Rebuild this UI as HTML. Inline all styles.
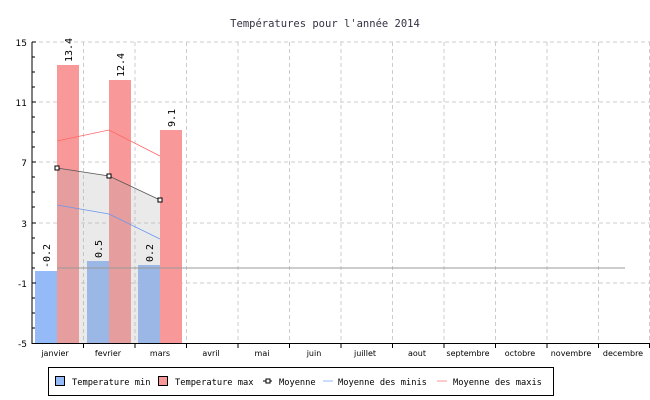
<!DOCTYPE html><html><head><style>body{margin:0;background:#fff}svg{display:block;font-family:"DejaVu Sans Mono","Liberation Mono",monospace}</style></head><body>
<svg width="650" height="400" viewBox="0 0 650 400">
<text x="325" y="27" text-anchor="middle" font-size="10.5" fill="#334">Températures pour l'année 2014</text>
<g stroke="#ccc" stroke-dasharray="4,3" fill="none">
<line x1="32" x2="650" y1="42" y2="42"/><line x1="32" x2="650" y1="102" y2="102"/><line x1="32" x2="650" y1="162" y2="162"/><line x1="32" x2="650" y1="223" y2="223"/><line x1="32" x2="650" y1="283" y2="283"/>
<line x1="83.5" x2="83.5" y1="42" y2="343"/><line x1="135" x2="135" y1="42" y2="343"/><line x1="186.5" x2="186.5" y1="42" y2="343"/><line x1="238" x2="238" y1="42" y2="343"/><line x1="289.5" x2="289.5" y1="42" y2="343"/><line x1="341" x2="341" y1="42" y2="343"/><line x1="392.5" x2="392.5" y1="42" y2="343"/><line x1="444" x2="444" y1="42" y2="343"/><line x1="495.5" x2="495.5" y1="42" y2="343"/><line x1="547" x2="547" y1="42" y2="343"/><line x1="598.5" x2="598.5" y1="42" y2="343"/><line x1="649.5" x2="649.5" y1="42" y2="343"/>
</g>
<rect x="35" y="271" width="22" height="72" fill="#94bbf8"/>
<rect x="87" y="261" width="22" height="82" fill="#94bbf8"/>
<rect x="138" y="265" width="22" height="78" fill="#94bbf8"/>
<rect x="57" y="65" width="22" height="278" fill="#f99898"/>
<rect x="109" y="80" width="22" height="263" fill="#f99898"/>
<rect x="160" y="130" width="22" height="213" fill="#f99898"/>
<polygon points="57,168 109,176 160,200 160,343 57,343" fill="#aaa" fill-opacity="0.25"/>
<line x1="57" x2="625" y1="268" y2="268" stroke="#999"/>
<polyline points="57,141 109,130 160,156" fill="none" stroke="#f66" stroke-width="0.8"/>
<polyline points="57,205 109,214 160,239" fill="none" stroke="#6a96ee" stroke-width="0.8"/>
<polyline points="57,168 109,176 160,200" fill="none" stroke="#555" stroke-width="0.8"/>
<g fill="#fff" stroke="#000"><rect x="55" y="166" width="4" height="4"/><rect x="107" y="174" width="4" height="4"/><rect x="158" y="198" width="4" height="4"/></g>
<g font-size="10" fill="#000">
<text transform="translate(50,268) rotate(-90)">-0.2</text>
<text transform="translate(72,62) rotate(-90)">13.4</text>
<text transform="translate(102,258) rotate(-90)">0.5</text>
<text transform="translate(124,77) rotate(-90)">12.4</text>
<text transform="translate(153,262) rotate(-90)">0.2</text>
<text transform="translate(175,127) rotate(-90)">9.1</text>
</g>
<g stroke="#000"><line x1="32" x2="32" y1="42" y2="344"/><line x1="32" x2="650" y1="343.5" y2="343.5"/>
<path d="M32 42h4M32 57h3M32 72h3M32 87h3M32 102h4M32 117h3M32 132h3M32 147h3M32 162h4M32 177h3M32 192h3M32 207h3M32 223h4M32 238h3M32 253h3M32 268h3M32 283h4M32 298h3M32 313h3M32 328h3"/>
<path d="M83.5 343v5M135 343v5M186.5 343v5M238 343v5M289.5 343v5M341 343v5M392.5 343v5M444 343v5M495.5 343v5M547 343v5M598.5 343v5M649.5 343v5"/></g>
<g font-size="9" fill="#000" text-anchor="end" font-family="DejaVu Sans,sans-serif"><text x="27" y="46">15</text><text x="27" y="106">11</text><text x="27" y="166">7</text><text x="27" y="227">3</text><text x="27" y="287">-1</text><text x="27" y="347">-5</text></g>
<g font-size="8" fill="#000" text-anchor="middle" font-family="DejaVu Sans,sans-serif"><text x="55" y="356">janvier</text><text x="108" y="356">fevrier</text><text x="160" y="356">mars</text><text x="211" y="356">avril</text><text x="262" y="356">mai</text><text x="314" y="356">juin</text><text x="365" y="356">juillet</text><text x="417" y="356">aout</text><text x="468" y="356">septembre</text><text x="520" y="356">octobre</text><text x="571" y="356">novembre</text><text x="623" y="356">decembre</text></g>
<rect x="48.5" y="367.5" width="505" height="28" fill="#fff" stroke="#000"/>
<rect x="55.5" y="376.5" width="9" height="9" fill="#94bbf8" stroke="#000"/>
<rect x="158.5" y="376.5" width="9" height="9" fill="#f99898" stroke="#000"/>
<line x1="263" x2="272" y1="381" y2="381" stroke="#000"/><rect x="266" y="379" width="4" height="4" fill="#fff" stroke="#000"/>
<line x1="323" x2="333" y1="381" y2="381" stroke="#94bbf8"/>
<line x1="437" x2="447" y1="381" y2="381" stroke="#f99898"/>
<g font-size="8.7" fill="#000"><text x="72" y="385">Temperature min</text><text x="175" y="385">Temperature max</text><text x="279" y="385">Moyenne</text><text x="338" y="385">Moyenne des minis</text><text x="453" y="385">Moyenne des maxis</text></g>
</svg></body></html>
